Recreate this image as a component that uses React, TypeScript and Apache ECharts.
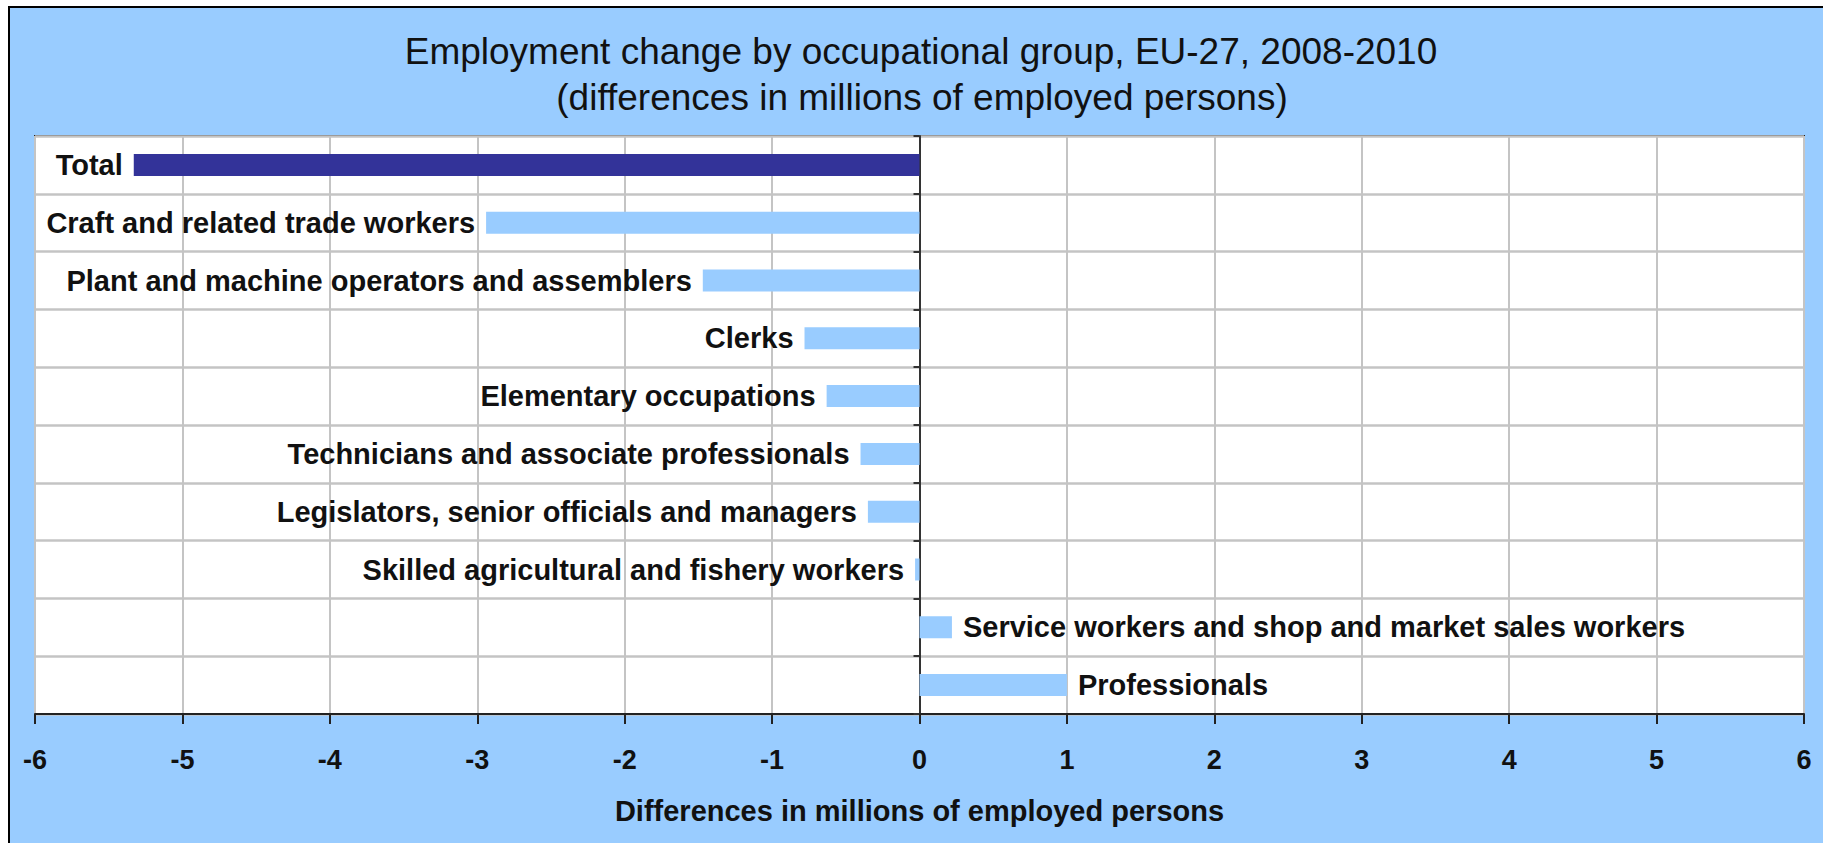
import React, { useEffect, useRef } from "react";
import * as echarts from "echarts";

const titleLines = [
  "Employment change by occupational group, EU-27, 2008-2010",
  "(differences in millions of employed persons)",
];
const axisName = "Differences in millions of employed persons";
const categories = [
  "Total",
  "Craft and related trade workers",
  "Plant and machine operators and assemblers",
  "Clerks",
  "Elementary occupations",
  "Technicians and associate professionals",
  "Legislators, senior officials and managers",
  "Skilled agricultural and fishery workers",
  "Service workers and shop and market sales workers",
  "Professionals",
];
const values = [-5.33, -2.94, -1.47, -0.78, -0.63, -0.4, -0.35, -0.03, 0.22, 1.0];
const totalColor = "#333399";
const barColor = "#99CCFF";
const FONT = "'Liberation Sans', Arial, sans-serif";

export default function App() {
  const ref = useRef<HTMLDivElement>(null);
  useEffect(() => {
    const chart = echarts.init(ref.current!, null, { renderer: "svg" });
    chart.setOption({
      animation: false,
      backgroundColor: "#ffffff",
      graphic: [
        {
          type: "rect",
          z: -100,
          silent: true,
          shape: { x: 9, y: 7, width: 1830, height: 850 },
          style: { fill: "#99CCFF", stroke: "#000", lineWidth: 2 },
        },
        {
          type: "text",
          z: 100,
          x: 921,
          y: 51,
          style: {
            text: titleLines[0],
            align: "center",
            verticalAlign: "middle",
            textAlign: "center",
            textVerticalAlign: "middle",
            font: `normal 37px ${FONT}`,
            fill: "#111",
          },
        },
        {
          type: "text",
          z: 100,
          x: 922,
          y: 97,
          style: {
            text: titleLines[1],
            align: "center",
            verticalAlign: "middle",
            textAlign: "center",
            textVerticalAlign: "middle",
            font: `normal 37px ${FONT}`,
            fill: "#111",
          },
        },
      ],
      grid: {
        left: 35,
        right: 19,
        top: 136,
        bottom: 129,
        show: true,
        backgroundColor: "#ffffff",
        borderColor: "#222",
        borderWidth: 2,
      },
      xAxis: {
        type: "value",
        min: -6,
        max: 6,
        interval: 1,
        position: "bottom",
        axisLine: { show: true, onZero: false, lineStyle: { color: "#222", width: 2 } },
        axisTick: { show: true, length: 10, lineStyle: { color: "#222", width: 2 } },
        axisLabel: {
          margin: 32,
          fontSize: 27,
          fontWeight: "bold",
          fontFamily: FONT,
          color: "#111",
        },
        splitLine: { show: true, lineStyle: { color: "#c4c4c4", width: 2 } },
        name: axisName,
        nameLocation: "middle",
        nameGap: 82,
        nameTextStyle: { fontSize: 29, fontWeight: "bold", fontFamily: FONT, color: "#111" },
      },
      yAxis: {
        type: "category",
        data: categories,
        inverse: true,
        axisLine: { show: true, onZero: true, lineStyle: { color: "#333", width: 2 } },
        axisTick: { show: true, length: 6, lineStyle: { color: "#333", width: 2 } },
        axisLabel: { show: false },
        splitLine: { show: true, lineStyle: { color: "#c4c4c4", width: 2.5 } },
      },
      series: [
        {
          type: "bar",
          barWidth: 22,
          data: values.map((v, i) => ({
            value: v,
            itemStyle: { color: i === 0 ? totalColor : barColor },
            label: { position: v < 0 ? "left" : "right" },
          })),
          label: {
            show: true,
            formatter: "{b}",
            distance: 11,
            fontSize: 29,
            fontWeight: "bold",
            fontFamily: FONT,
            color: "#111",
          },
        },
      ],
    });
    return () => chart.dispose();
  }, []);
  return (
    <div
      ref={ref}
      style={{ position: "fixed", left: 0, top: 0, width: 1823, height: 843 }}
    />
  );
}
